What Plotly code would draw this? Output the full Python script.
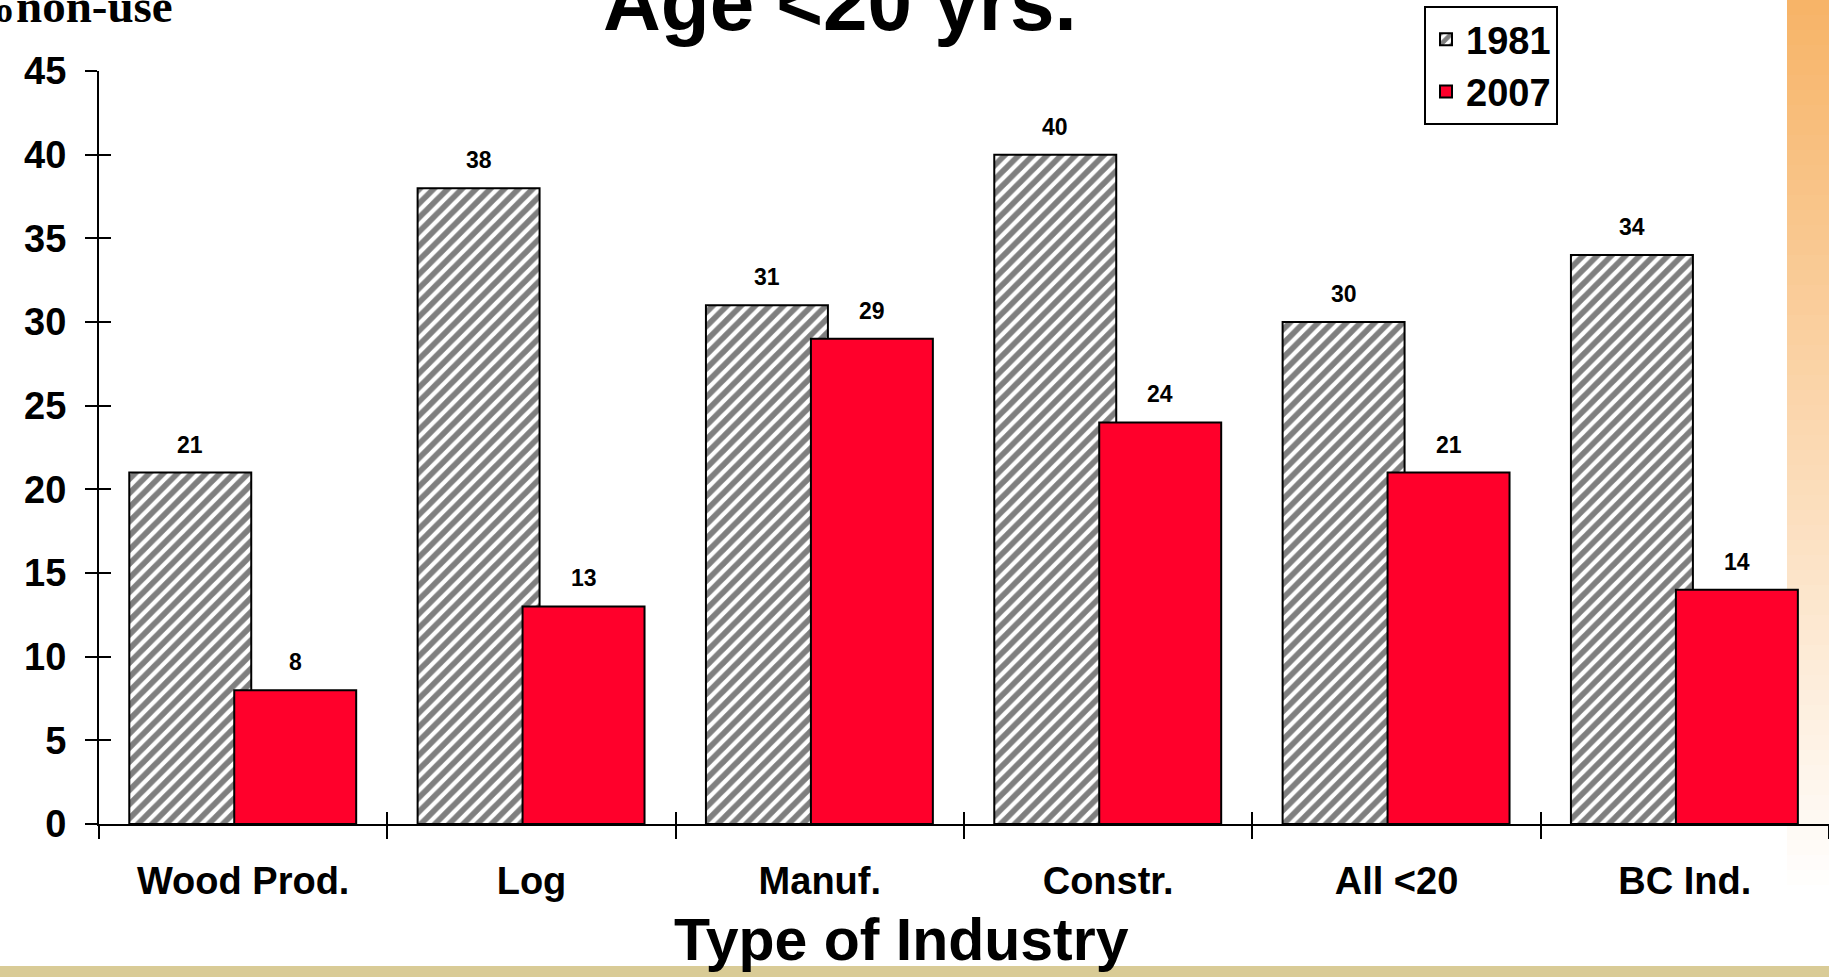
import plotly.graph_objects as go

# ---- data ----
categories = ["Wood Prod.", "Log", "Manuf.", "Constr.", "All <20", "BC Ind."]
series_names = ["1981", "2007"]
values_1981 = [21, 38, 31, 40, 30, 34]
values_2007 = [8, 13, 29, 24, 21, 14]
y_ticks = [0, 5, 10, 15, 20, 25, 30, 35, 40, 45]

title_text = "Age <20 yrs."
y_title_text = "%non-use"
x_title_text = "Type of Industry"

# ---- style ----
SANS = "Liberation Sans, Arial, sans-serif"
SERIF = "Liberation Serif, Times New Roman, serif"
RED = "#FF002B"
BAR_W = 0.423
OFF_1981 = -0.395
OFF_2007 = -0.031
CAT_PX = 1730 / 6.0

fig = go.Figure()

fig.add_trace(go.Bar(
    name=series_names[0], x=categories, y=values_1981,
    offset=OFF_1981, width=BAR_W,
    marker=dict(color="white",
                pattern=dict(shape="/", fgcolor="black", bgcolor="white", size=10, solidity=0.58),
                line=dict(color="black", width=2)),
))
fig.add_trace(go.Bar(
    name=series_names[1], x=categories, y=values_2007,
    offset=OFF_2007, width=BAR_W,
    marker=dict(color=RED, line=dict(color="black", width=2)),
))
# helper trace for overlay axes carrying the inner half of the crossing ticks
fig.add_trace(go.Scatter(x=[], y=[], xaxis="x2", yaxis="y2", showlegend=False, hoverinfo="skip"))

# value labels above bars
annotations = []
for vals, off in ((values_1981, OFF_1981), (values_2007, OFF_2007)):
    shift = (off + BAR_W / 2) * CAT_PX
    for c, v in zip(categories, vals):
        annotations.append(dict(x=c, y=v, xref="x", yref="y", text=str(v), showarrow=False,
                                xanchor="center", yanchor="bottom", xshift=shift, yshift=13,
                                font=dict(family=SANS, size=23, color="black", weight="bold")))

annotations.append(dict(x=(840 - 99) / 1730, y=1.029, xref="paper", yref="paper", text=title_text,
                        showarrow=False, xanchor="center", yanchor="bottom",
                        font=dict(family=SANS, size=80, color="black", weight="bold")))
annotations.append(dict(x=(175 - 99) / 1730, y=1.0492, xref="paper", yref="paper", text=y_title_text,
                        showarrow=False, xanchor="right", yanchor="bottom",
                        font=dict(family=SERIF, size=47, color="black", weight="bold")))
annotations.append(dict(x=(901 - 99) / 1730, y=(824 - 975) / 753, xref="paper", yref="paper",
                        text=x_title_text, showarrow=False, xanchor="center", yanchor="bottom",
                        font=dict(family=SANS, size=59, color="black", weight="bold")))

# decorative background: orange gradient strip on the right, tan band at bottom
shapes = []
N = 60
top_rgb = (247, 180, 104)
y_end = 900.0
for i in range(N):
    t = i / (N - 1)
    r = round(top_rgb[0] + (255 - top_rgb[0]) * t)
    g = round(top_rgb[1] + (255 - top_rgb[1]) * t)
    b = round(top_rgb[2] + (255 - top_rgb[2]) * t)
    ya = y_end * i / N
    yb = y_end * (i + 1) / N + 1
    shapes.append(dict(type="rect", xref="paper", yref="paper", layer="below",
                       x0=(1787 - 99) / 1730, x1=1.0,
                       y0=(824 - yb) / 753, y1=(824 - ya) / 753,
                       line=dict(width=0), fillcolor=f"rgb({r},{g},{b})"))
shapes.append(dict(type="rect", xref="paper", yref="paper", layer="below",
                   x0=-99 / 1730, x1=1.0, y0=(824 - 977) / 753, y1=(824 - 966) / 753,
                   line=dict(width=0), fillcolor="#D9CB96"))

fig.update_layout(
    width=1829, height=977,
    margin=dict(l=99, r=0, t=71, b=153, autoexpand=False),
    paper_bgcolor="white", plot_bgcolor="rgba(0,0,0,0)",
    barmode="overlay",
    showlegend=True,
    legend=dict(x=(1424 - 99) / 1730, y=(824 - 6) / 753, xanchor="left", yanchor="top",
                bgcolor="white", bordercolor="black", borderwidth=2,
                font=dict(family=SANS, size=38, color="black", weight="bold"),
                traceorder="normal"),
    xaxis=dict(type="category", range=[-0.5, 5.5], tickson="boundaries",
               ticks="outside", ticklen=13, tickwidth=2, tickcolor="black",
               showline=True, linecolor="black", linewidth=2, showgrid=False, zeroline=False,
               ticklabelstandoff=22,
               tickfont=dict(family=SANS, size=38, color="black", weight="bold")),
    yaxis=dict(range=[0, 45], tickvals=y_ticks, ticks="outside", ticklen=12, tickwidth=2,
               tickcolor="black", showline=True, linecolor="black", linewidth=2,
               showgrid=False, zeroline=False, ticklabelstandoff=11,
               tickfont=dict(family=SANS, size=38, color="black", weight="bold")),
    xaxis2=dict(overlaying="x", anchor="y2", side="bottom", range=[-0.5, 5.5],
                tickmode="linear", tick0=-0.5, dtick=1, ticks="inside", ticklen=12,
                tickwidth=2, tickcolor="black", showticklabels=False, showline=False,
                showgrid=False, zeroline=False),
    yaxis2=dict(overlaying="y", anchor="x2", side="left", range=[0, 45], tickvals=y_ticks,
                ticks="inside", ticklen=12, tickwidth=2, tickcolor="black",
                showticklabels=False, showline=False, showgrid=False, zeroline=False),
    annotations=annotations,
    shapes=shapes,
)

fig.write_html("out.html", config={"displayModeBar": False},
               post_script="document.body.style.margin='0';document.body.style.overflow='hidden';")
